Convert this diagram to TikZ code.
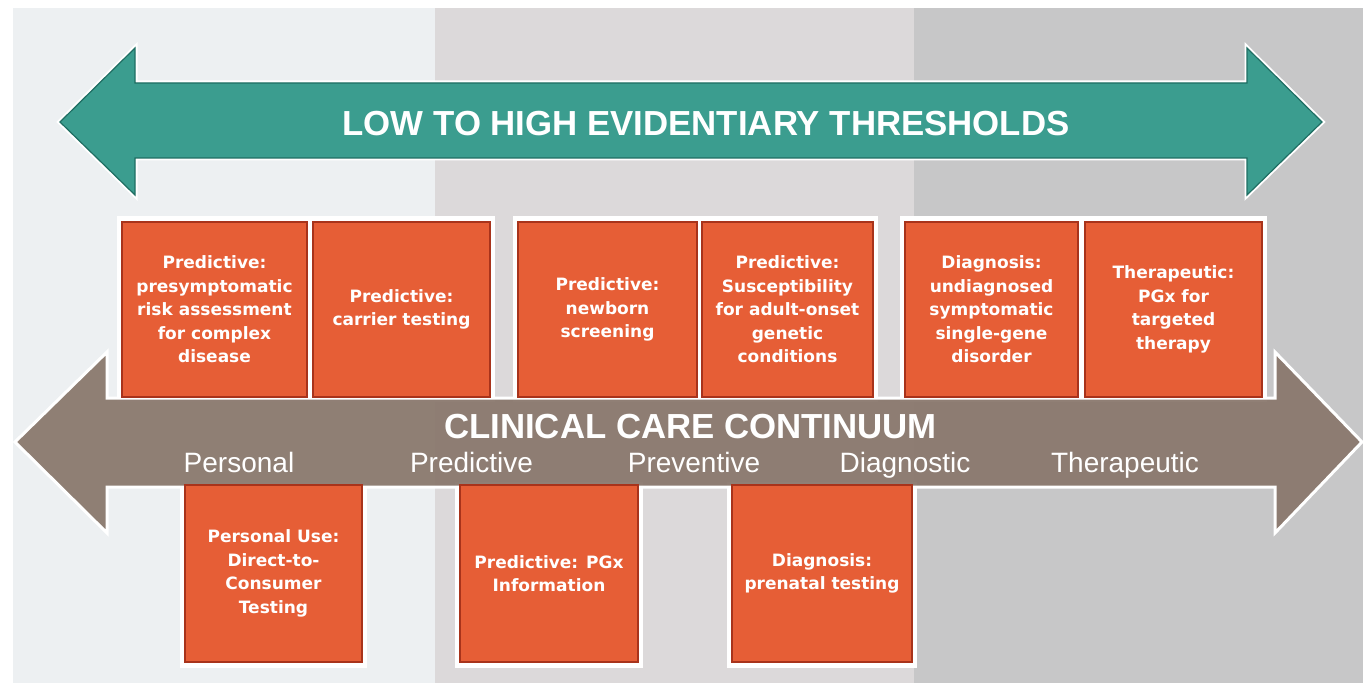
\documentclass[tikz,border=0pt]{standalone}
\usepackage{fontspec}
\setmainfont{Liberation Sans}
\newfontfamily\boxfont{DejaVu Sans}
\definecolor{bandA}{HTML}{EDF0F2}
\definecolor{bandB}{HTML}{DCD9DA}
\definecolor{bandC}{HTML}{C7C7C8}
\definecolor{tealA}{HTML}{3B9D8F}
\definecolor{tealD}{HTML}{1F6E63}
\definecolor{brownA}{HTML}{8A786D}
\definecolor{orangeA}{HTML}{E65E36}
\definecolor{orangeD}{HTML}{A8331B}
\tikzset{
  obox/.style={draw=orangeD, line width=2pt, fill=orangeA, text=white,
    align=center, inner sep=2pt,
    font=\boxfont\bfseries\fontsize{17}{23.5}\selectfont},
  frame/.style={fill=white, draw=none},
  title/.style={text=white, font=\bfseries\fontsize{34.8}{40}\selectfont, inner sep=0pt, anchor=base},
  stage/.style={text=white, font=\fontsize{28}{32}\selectfont, inner sep=0pt, anchor=base}
}
\begin{document}
\begin{tikzpicture}[x=1pt,y=-1pt]
\useasboundingbox (0,0) rectangle (1363,687);
\fill[white] (0,0) rectangle (1363,687);
% background bands
\fill[bandA] (13,8) rectangle (435,683);
\fill[bandB] (435,8) rectangle (914,683);
\fill[bandC] (914,8) rectangle (1363,683);
% teal arrow
\draw[white, line width=5pt, line join=miter, fill=tealA]
  (60,122) -- (135,48) -- (135,83) -- (1247,83) -- (1247,48) -- (1322,122)
  -- (1247,195) -- (1247,158) -- (135,158) -- (135,195) -- cycle;
\draw[tealD, line width=1.2pt, fill=tealA]
  (60,122) -- (135,48) -- (135,83) -- (1247,83) -- (1247,48) -- (1322,122)
  -- (1247,195) -- (1247,158) -- (135,158) -- (135,195) -- cycle;
\node[title] (thr) at (706,136) {LOW TO HIGH EVIDENTIARY THRESHOLDS};
% white frames
\fill[frame] (117,216) rectangle (495,402);
\fill[frame] (513,216) rectangle (878,402);
\fill[frame] (900,216) rectangle (1267,402);
\fill[frame] (180,482) rectangle (367,668);
\fill[frame] (455,482) rectangle (643,668);
\fill[frame] (727,482) rectangle (917,668);
% brown arrow
\draw[white, line width=3pt, fill=brownA, fill opacity=0.94]
  (15,442) -- (107,352) -- (107,398) -- (1275,398) -- (1275,352) -- (1362,442)
  -- (1275,533) -- (1275,487) -- (107,487) -- (107,533) -- cycle;
\node[title] (ccc) at (690.5,438) {CLINICAL CARE CONTINUUM};
\node[stage] (s1) at (239,472) {Personal};
\node[stage] (s2) at (471.5,472) {Predictive};
\node[stage] (s3) at (694,472) {Preventive};
\node[stage] (s4) at (905,472) {Diagnostic};
\node[stage] (s5) at (1125,472) {Therapeutic};
% top row boxes
\node[obox, minimum width=185pt, minimum height=175pt] (b1) at (214.5,309.5)
  {Predictive:\\presymptomatic\\risk assessment\\for complex\\disease};
\node[obox, minimum width=177pt, minimum height=175pt] (b2) at (401.5,309.5)
  {Predictive:\\carrier testing};
\node[obox, minimum width=179pt, minimum height=175pt] (b3) at (607.5,309.5)
  {Predictive:\\newborn\\screening};
\node[obox, minimum width=171pt, minimum height=175pt] (b4) at (787.5,309.5)
  {Predictive:\\Susceptibility\\for adult-onset\\genetic\\conditions};
\node[obox, minimum width=173pt, minimum height=175pt] (b5) at (991.5,309.5)
  {Diagnosis:\\undiagnosed\\symptomatic\\single-gene\\disorder};
\node[obox, minimum width=177pt, minimum height=175pt] (b6) at (1173.5,309.5)
  {Therapeutic:\\PGx for\\targeted\\therapy};
% bottom row boxes
\node[obox, minimum width=177pt, minimum height=177pt] (b7) at (273.5,573.5)
  {Personal Use:\\Direct-to-\\Consumer\\Testing};
\node[obox, minimum width=178pt, minimum height=177pt] (b8) at (549,573.5)
  {Predictive: PGx\\Information};
\node[obox, minimum width=180pt, minimum height=177pt] (b9) at (822,573.5)
  {Diagnosis:\\prenatal testing};
\end{tikzpicture}
\end{document}
